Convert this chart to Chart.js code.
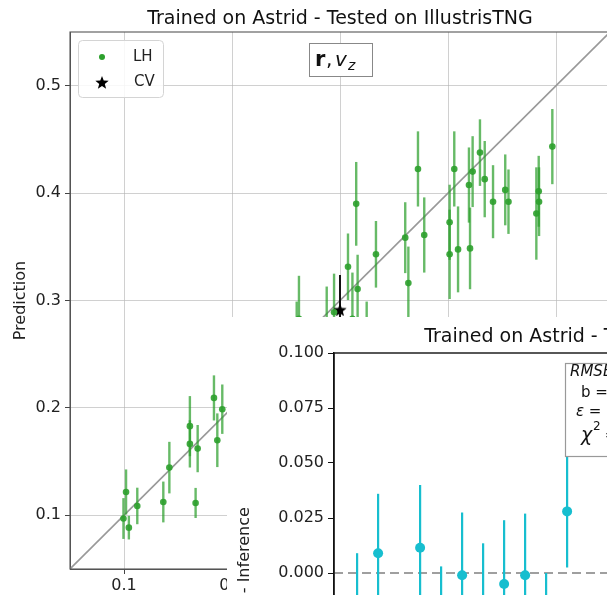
<!DOCTYPE html>
<html>
<head>
<meta charset="utf-8">
<script src="https://cdn.jsdelivr.net/npm/chart.js@4.4.0/dist/chart.umd.min.js"></script>
<style>
  html, body { margin: 0; padding: 0; background: #fff; overflow: hidden; width: 607px; height: 595px; }
  #main { position: absolute; left: 0; top: 0; }
  #inset { position: absolute; left: 227px; top: 317px; background: #fff; }
</style>
</head>
<body>
<canvas id="main" width="630" height="595"></canvas>
<canvas id="inset" width="780" height="500"></canvas>
<script>
// LH simulations: true value, predicted value, 1-sigma error
const lhTrue = [0.4966, 0.4296, 0.4228, 0.4058, 0.3722, 0.4340, 0.4194, 0.4530, 0.4840, 0.4417,
                0.4560, 0.4843, 0.4818, 0.3150, 0.4015, 0.4015, 0.4093, 0.4204, 0.3780, 0.3604,
                0.3333, 0.3633, 0.3074, 0.3163,
                0.2599, 0.2620, 0.2877, 0.2945, 0.3115, 0.3247,
                0.0995, 0.1019, 0.1045, 0.1123, 0.1364, 0.1420, 0.1610, 0.1610, 0.1682, 0.1663,
                0.1833, 0.1864, 0.1910];
const lhPred = [0.4433, 0.4377, 0.4200, 0.4225, 0.4225, 0.4130, 0.4075, 0.4030, 0.4017, 0.3920,
                0.3920, 0.3920, 0.3810, 0.3900, 0.3728, 0.3430, 0.3476, 0.3485, 0.3610, 0.3585,
                0.3430, 0.3162, 0.3314, 0.3106,
                0.2680, 0.2830, 0.2780, 0.2890, 0.2830, 0.2680,
                0.0970, 0.1217, 0.0885, 0.1087, 0.1124, 0.1444, 0.1830, 0.1665, 0.1621, 0.1115,
                0.2093, 0.1699, 0.1988];
const lhErr  = [0.035, 0.031, 0.033, 0.035, 0.035, 0.0355, 0.035, 0.033, 0.033, 0.034,
                0.030, 0.032, 0.043, 0.039, 0.035, 0.0416, 0.040, 0.038, 0.035, 0.033,
                0.031, 0.034, 0.031, 0.032,
                0.031, 0.040, 0.035, 0.036, 0.043, 0.031,
                0.019, 0.021, 0.011, 0.017, 0.019, 0.024, 0.028, 0.022, 0.022, 0.014,
                0.021, 0.025, 0.023];

// CV simulation
const cvTrue = [0.300];
const cvPred = [0.2917];
const cvErr  = [0.032];

const mainTicks = [0.1, 0.2, 0.3, 0.4, 0.5];

// residuals: sample index, truth - inference, error
const residIndex = [0, 1, 3, 4, 5, 6, 7, 8, 9, 10];
const residValue = [-0.019, 0.009, 0.0115, -0.025, -0.001, -0.015, -0.005, -0.001, -0.028, 0.028];
const residErr   = [0.028, 0.027, 0.0285, 0.028, 0.0285, 0.0285, 0.029, 0.028, 0.028, 0.0255];
const residTicks = [-0.1, -0.075, -0.05, -0.025, 0, 0.025, 0.05, 0.075, 0.1];

const titleText = 'Trained on Astrid - Tested on IllustrisTNG';
const green = '#2ca02c';
const cyan = '#17becf';

Chart.defaults.font.family = 'DejaVu Sans';
Chart.defaults.color = '#222';

function makeStar(size, color) {
  const c = document.createElement('canvas');
  c.width = c.height = size;
  const g = c.getContext('2d');
  const r = size / 2, ri = r * 0.42;
  g.beginPath();
  for (let k = 0; k < 10; k++) {
    const rad = k % 2 ? ri : r;
    const a = -Math.PI / 2 + k * Math.PI / 5;
    g.lineTo(r + rad * Math.cos(a), r + 1 + rad * Math.sin(a));
  }
  g.closePath();
  g.fillStyle = color;
  g.fill();
  return c;
}
const star = makeStar(14, '#000');

const errorBars = {
  id: 'errorBars',
  beforeDatasetsDraw(chart) {
    const { ctx, chartArea, scales } = chart;
    ctx.save();
    ctx.beginPath();
    ctx.rect(chartArea.left, chartArea.top, chartArea.width, chartArea.height);
    ctx.clip();
    chart.data.datasets.forEach((ds, i) => {
      if (!ds.errors) return;
      const meta = chart.getDatasetMeta(i);
      ctx.strokeStyle = ds.errorColor;
      ctx.lineWidth = ds.errorWidth;
      meta.data.forEach((pt, j) => {
        const v = ds.data[j].y, e = ds.errors[j];
        ctx.beginPath();
        ctx.moveTo(pt.x, scales.y.getPixelForValue(v + e));
        ctx.lineTo(pt.x, scales.y.getPixelForValue(v - e));
        ctx.stroke();
      });
    });
    ctx.restore();
  }
};

const frame = {
  id: 'frame',
  afterDatasetsDraw(chart, args, opts) {
    const { ctx, chartArea: a } = chart;
    ctx.save();
    ctx.strokeStyle = opts.color;
    ctx.lineWidth = opts.width;
    ctx.strokeRect(a.left, a.top, a.width, a.height);
    ctx.restore();
  }
};

const axesTitle = {
  id: 'axesTitle',
  afterDraw(chart, args, opts) {
    const { ctx, chartArea: a } = chart;
    ctx.save();
    ctx.font = '19px "DejaVu Sans"';
    ctx.fillStyle = '#111';
    ctx.textAlign = 'center';
    ctx.textBaseline = 'alphabetic';
    ctx.fillText(titleText, (a.left + a.right) / 2, opts.y);
    ctx.restore();
  }
};

// y = x reference line
const diagonal = {
  id: 'diagonal',
  beforeDatasetsDraw(chart) {
    const { ctx, chartArea: a, scales: { x, y } } = chart;
    ctx.save();
    ctx.beginPath();
    ctx.rect(a.left, a.top, a.width, a.height);
    ctx.clip();
    ctx.strokeStyle = '#999';
    ctx.lineWidth = 1.6;
    ctx.beginPath();
    ctx.moveTo(x.getPixelForValue(x.min), y.getPixelForValue(x.min));
    ctx.lineTo(x.getPixelForValue(x.max), y.getPixelForValue(x.max));
    ctx.stroke();
    ctx.restore();
  }
};

const mainDecor = {
  id: 'mainDecor',
  afterDraw(chart) {
    const { ctx } = chart;
    ctx.save();
    // legend
    ctx.fillStyle = 'rgba(255,255,255,0.85)';
    ctx.strokeStyle = '#d4d4d4';
    ctx.lineWidth = 1;
    ctx.beginPath();
    ctx.roundRect(78.5, 40.5, 85, 57, 4);
    ctx.fill();
    ctx.stroke();
    ctx.fillStyle = green;
    ctx.beginPath();
    ctx.arc(102, 57, 3, 0, Math.PI * 2);
    ctx.fill();
    ctx.drawImage(star, 95, 75);
    ctx.fillStyle = '#222';
    ctx.font = '15px "DejaVu Sans"';
    ctx.textBaseline = 'middle';
    ctx.fillText('LH', 133, 57);
    ctx.fillText('CV', 134, 82);
    // feature label
    ctx.fillStyle = '#fff';
    ctx.strokeStyle = '#888';
    ctx.fillRect(309.5, 43.5, 63, 33);
    ctx.strokeRect(309.5, 43.5, 63, 33);
    ctx.fillStyle = '#111';
    ctx.textBaseline = 'alphabetic';
    ctx.font = 'bold 21px "DejaVu Sans"';
    ctx.fillText('r', 315, 66);
    ctx.font = '20px "DejaVu Sans"';
    ctx.fillText(',', 326, 66);
    ctx.font = 'italic 20px "DejaVu Sans"';
    ctx.fillText('v', 335, 66);
    ctx.font = 'italic 14px "DejaVu Sans"';
    ctx.fillText('z', 348, 70);
    ctx.restore();
  }
};

new Chart(document.getElementById('main'), {
  type: 'scatter',
  data: {
    datasets: [
      {
        label: 'LH',
        data: lhTrue.map((x, i) => ({ x, y: lhPred[i] })),
        backgroundColor: 'rgba(44,160,44,0.9)',
        borderWidth: 0,
        pointRadius: 3.3,
        errors: lhErr,
        errorColor: 'rgba(44,160,44,0.72)',
        errorWidth: 2.4
      },
      {
        label: 'CV',
        data: cvTrue.map((x, i) => ({ x, y: cvPred[i] })),
        pointStyle: star,
        errors: cvErr,
        errorColor: '#111',
        errorWidth: 2
      }
    ]
  },
  options: {
    responsive: false,
    animation: false,
    layout: { padding: { top: 32, right: 20, left: 0, bottom: 0 } },
    plugins: {
      legend: { display: false },
      tooltip: { enabled: false },
      frame: { color: '#555', width: 1.1 },
      axesTitle: { y: 24 }
    },
    scales: {
      x: {
        type: 'linear', min: 0.05, max: 0.55,
        afterBuildTicks: s => { s.ticks = mainTicks.map(v => ({ value: v })); },
        afterFit: s => { s.height = 26; },
        grid: { color: 'rgba(176,176,176,0.6)', tickColor: '#444', tickLength: 5 },
        border: { color: '#555' },
        ticks: { font: { size: 16 }, padding: 2, maxRotation: 0, callback: v => v.toFixed(1) }
      },
      y: {
        type: 'linear', min: 0.05, max: 0.55,
        afterBuildTicks: s => { s.ticks = mainTicks.map(v => ({ value: v })); },
        afterFit: s => { s.width = 70; },
        grid: { color: 'rgba(176,176,176,0.6)', tickColor: '#444', tickLength: 5 },
        border: { color: '#555' },
        ticks: { font: { size: 16 }, padding: 4, callback: v => v.toFixed(1) },
        title: { display: true, text: 'Prediction', font: { size: 16 }, padding: { top: 11, bottom: 0 } }
      }
    }
  },
  plugins: [diagonal, errorBars, frame, axesTitle, mainDecor]
});

// dashed zero line and the statistics box
const residDecor = {
  id: 'residDecor',
  beforeDatasetsDraw(chart) {
    const { ctx, chartArea: a, scales: { y } } = chart;
    ctx.save();
    ctx.strokeStyle = '#808080';
    ctx.lineWidth = 1.6;
    ctx.setLineDash([9, 5]);
    const y0 = y.getPixelForValue(0);
    ctx.beginPath();
    ctx.moveTo(a.left, y0);
    ctx.lineTo(a.right, y0);
    ctx.stroke();
    ctx.restore();
  },
  afterDraw(chart) {
    const { ctx } = chart;
    ctx.save();
    ctx.fillStyle = '#fff';
    ctx.strokeStyle = '#999';
    ctx.lineWidth = 1.2;
    ctx.fillRect(338.5, 46.5, 130, 93);
    ctx.strokeRect(338.5, 46.5, 130, 93);
    ctx.fillStyle = '#111';
    ctx.textBaseline = 'middle';
    ctx.font = 'italic 15px "DejaVu Sans"';
    ctx.fillText('RMSE', 343, 55);
    ctx.font = '15px "DejaVu Sans"';
    ctx.fillText(' = 0.036', 343 + ctx.measureText('RMSE').width + 2, 55);
    ctx.fillText('b = 0.004', 354, 76);
    ctx.font = 'italic 15px "DejaVu Sans"';
    ctx.fillText('\u03b5', 349, 95);
    ctx.font = '15px "DejaVu Sans"';
    ctx.fillText(' = 0.128', 357, 95);
    ctx.font = 'italic 19px "DejaVu Sans"';
    ctx.fillText('\u03c7', 354, 119);
    ctx.font = '12px "DejaVu Sans"';
    ctx.fillText('2', 366, 110);
    ctx.font = '15px "DejaVu Sans"';
    ctx.fillText(' = 1.07', 373, 119);
    ctx.restore();
  }
};

new Chart(document.getElementById('inset'), {
  type: 'scatter',
  data: {
    datasets: [{
      label: 'residual',
      data: residIndex.map((x, i) => ({ x, y: residValue[i] })),
      backgroundColor: cyan,
      borderWidth: 0,
      pointRadius: 5,
      errors: residErr,
      errorColor: cyan,
      errorWidth: 2.2
    }]
  },
  options: {
    responsive: false,
    animation: false,
    layout: { padding: { top: 36, right: 107, left: 0, bottom: 24 } },
    plugins: {
      legend: { display: false },
      tooltip: { enabled: false },
      frame: { color: '#111', width: 1.4 },
      axesTitle: { y: 25 }
    },
    scales: {
      x: { type: 'linear', min: -1.1, max: 25.85, display: false },
      y: {
        type: 'linear', min: -0.1, max: 0.1,
        afterBuildTicks: s => { s.ticks = residTicks.map(v => ({ value: v })); },
        afterFit: s => { s.width = 107; },
        grid: { drawOnChartArea: false, tickColor: '#111', tickLength: 6 },
        border: { color: '#111', width: 1.4 },
        ticks: { font: { size: 16 }, padding: 4, callback: v => v.toFixed(3) },
        title: { display: true, text: 'Truth - Inference', font: { size: 16 }, padding: { top: 8, bottom: 0 } }
      }
    }
  },
  plugins: [residDecor, errorBars, frame, axesTitle]
});
</script>
</body>
</html>
